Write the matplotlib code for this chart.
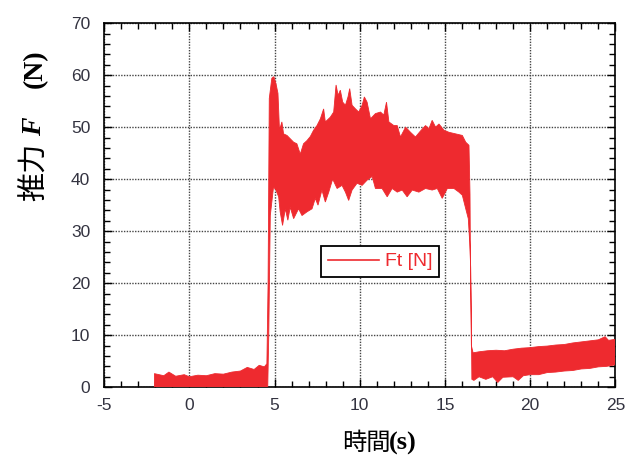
import matplotlib
matplotlib.use("Agg")
import matplotlib.pyplot as plt
from matplotlib.lines import Line2D
from matplotlib.ticker import MultipleLocator

plt.rcParams['axes.unicode_minus'] = False

# 推力 Ft [N] の包絡線
t_upper = [-2.05, -1.5, -1.2, -0.8, -0.3, 0.0, 0.5, 1.0, 1.5, 2.0, 2.5, 3.0, 3.4, 3.8,
           4.1, 4.4, 4.55, 4.62, 4.69, 4.84, 4.96, 5.08, 5.2, 5.29, 5.43, 5.53, 5.73,
           5.82, 6.12, 6.31, 6.51, 6.7, 6.9, 7.1, 7.29, 7.49, 7.69, 7.88, 7.98, 8.27,
           8.47, 8.61, 8.73, 8.86, 9.0, 9.16, 9.31, 9.41, 9.55, 9.75, 9.94, 10.14,
           10.27, 10.43, 10.63, 10.92, 11.22, 11.41, 11.57, 11.71, 12.0, 12.2, 12.39,
           12.69, 12.98, 13.27, 13.55, 13.86, 14.06, 14.25, 14.45, 14.65, 14.94,
           15.24, 15.63, 16.02, 16.22, 16.41, 16.47, 16.5, 16.55, 16.65, 17.0, 17.5,
           18.0, 18.5, 19.0, 19.5, 20.0, 20.5, 21.0, 21.5, 22.0, 22.5, 23.0, 23.5,
           24.0, 24.4, 24.6, 25.0]
f_upper = [2.6, 2.2, 2.9, 2.1, 2.4, 2.0, 2.3, 2.2, 2.6, 2.5, 2.9, 3.1, 3.8, 3.4,
           4.2, 3.9, 4.5, 20.0, 55.5, 59.4, 59.7, 58.4, 56.5, 49.4, 51.0, 48.7, 48.4,
           48.1, 47.1, 46.8, 44.8, 46.8, 47.4, 48.2, 49.4, 50.3, 51.6, 53.5, 51.0, 51.9,
           52.9, 58.1, 56.1, 57.1, 54.8, 54.2, 55.8, 57.4, 54.2, 53.5, 52.9, 54.2,
           55.8, 54.8, 51.6, 52.6, 52.9, 52.3, 54.8, 51.0, 50.3, 50.3, 48.1,
           50.0, 49.0, 48.1, 49.2, 50.3, 49.7, 51.3, 50.0, 50.6, 49.4,
           49.0, 48.7, 48.4, 47.1, 46.5, 37.1, 22.0, 8.0, 6.6, 6.8, 7.0,
           7.1, 7.0, 7.3, 7.5, 7.6, 7.8, 7.9, 8.1, 8.2, 8.5, 8.7, 8.9,
           9.1, 9.7, 9.0, 9.2]

t_lower = [-2.05, 4.6, 4.66, 4.75, 4.94, 5.08, 5.24, 5.33, 5.47, 5.63, 5.78, 5.92,
           6.12, 6.41, 6.61, 6.9, 7.2, 7.39, 7.55, 7.78, 7.98, 8.18, 8.41, 8.67,
           8.96, 9.16, 9.35, 9.55, 9.84, 10.14, 10.43, 10.73, 10.92, 11.31, 11.61,
           11.9, 12.2, 12.49, 12.78, 13.08, 13.47, 13.86, 14.25, 14.55, 14.84,
           15.14, 15.53, 15.82, 16.02, 16.22, 16.37, 16.45, 16.51, 16.53, 16.58,
           16.7, 17.0, 17.4, 17.8, 18.1, 18.4, 19.0, 19.3, 19.6, 20.0, 20.5, 21.0,
           21.5, 22.0, 22.5, 23.0, 23.5, 24.0, 24.5, 25.0]
f_lower = [0.0, 0.0, 10.0, 33.0, 38.5, 37.9, 36.6, 33.7, 31.1, 34.3, 32.1, 34.6,
           32.4, 34.3, 33.0, 33.7, 34.3, 36.3, 35.0, 37.9, 35.6, 37.5, 40.0, 38.2,
           38.8, 37.5, 35.9, 37.9, 39.2, 38.8, 39.8, 40.5, 38.2, 38.2, 36.6,
           38.2, 37.5, 37.9, 36.6, 37.9, 37.5, 38.2, 37.9, 38.2, 36.3,
           38.2, 38.2, 37.5, 36.9, 34.3, 32.4, 28.0, 23.0, 19.0, 1.5,
           1.3, 2.0, 1.5, 2.0, 0.9, 1.9, 2.0, 1.3, 2.2, 2.4, 2.4, 2.8,
           2.9, 3.1, 3.2, 3.5, 3.6, 3.9, 4.0, 4.3]

x_ticks = [-5, 0, 5, 10, 15, 20, 25]
y_ticks = [0, 10, 20, 30, 40, 50, 60, 70]

red = '#ee2a2f'
tick_color = '#333340'

fig = plt.figure(figsize=(6.39, 4.62), dpi=100)
ax = fig.add_axes([0.163, 0.162, 0.800, 0.788])

# 上側包絡線 → 下側包絡線(逆順) で帯を描く
poly_t = t_upper + t_lower[::-1]
poly_f = f_upper + f_lower[::-1]
ax.fill(poly_t, poly_f, color=red, lw=0.6, edgecolor=red, zorder=3)

ax.set_xlim(-5, 25)
ax.set_ylim(0, 70)
ax.set_xticks(x_ticks)
ax.set_yticks(y_ticks)
ax.xaxis.set_minor_locator(MultipleLocator(1))
ax.yaxis.set_minor_locator(MultipleLocator(2))
ax.tick_params(which='both', direction='in', top=True, right=True, color='black')
ax.tick_params(which='major', length=6, width=1.0)
ax.tick_params(which='minor', length=4, width=1.0)
ax.tick_params(axis='y', which='major', pad=10)
ax.tick_params(axis='x', which='major', pad=8)
for lab in ax.get_xticklabels() + ax.get_yticklabels():
    lab.set_fontfamily('Liberation Sans')
    lab.set_fontsize(12.5)
    lab.set_color(tick_color)
for sp in ax.spines.values():
    sp.set_linewidth(1.2)
ax.grid(True, which='major', linestyle=(0, (1, 1)), color='#444444', linewidth=1.0, zorder=1)
ax.set_axisbelow(True)

handle = Line2D([], [], color=red, lw=1.2)
leg = ax.legend([handle], ['Ft [N]'], loc='center', bbox_to_anchor=(0.54, 0.345),
                prop={'family': 'Liberation Sans', 'size': 14}, handlelength=2.6,
                handletextpad=0.3, borderpad=0.35, fancybox=False, framealpha=1,
                edgecolor='black')
leg.get_frame().set_linewidth(1.3)
for txt in leg.get_texts():
    txt.set_color(red)

# 軸ラベル
fig.text(35 / 639, 1 - 172 / 462, '推力', rotation=90, ha='center', va='center',
         family='Noto Sans CJK JP', fontsize=21)
fig.text(35 / 639, 1 - 127 / 462, 'F', rotation=90, ha='center', va='center',
         family='Liberation Serif', fontsize=20, fontweight='bold', fontstyle='italic')
fig.text(35 / 639, 1 - 69 / 462, '(N)', rotation=90, ha='center', va='center',
         family='Liberation Serif', fontsize=20, fontweight='bold')
fig.text(366 / 639, 1 - 443 / 462, '時間', ha='center', va='center',
         family='Noto Sans CJK JP', fontsize=17.5)
fig.text(403 / 639, 1 - 443 / 462, '(s)', ha='center', va='center',
         family='Liberation Serif', fontsize=19, fontweight='bold')

fig.savefig('out.png', dpi=100)
